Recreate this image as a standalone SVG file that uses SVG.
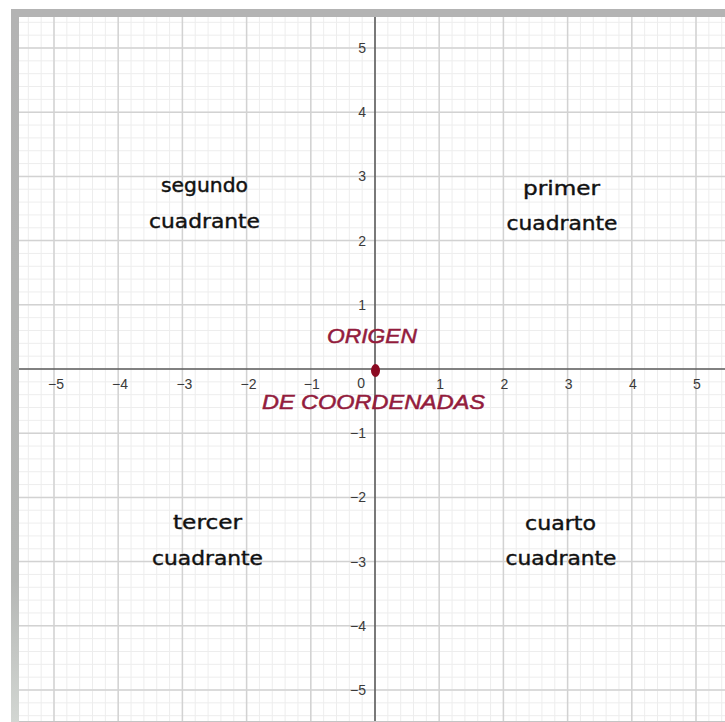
<svg xmlns="http://www.w3.org/2000/svg" width="725" height="722" viewBox="0 0 725 722">
<defs>
<pattern id="minor" patternUnits="userSpaceOnUse" x="368.58" y="362.58" width="12.84" height="12.84">
<path d="M6.42 0V12.84M0 6.42H12.84" stroke="#ededed" stroke-width="1" fill="none"/>
</pattern>
<linearGradient id="leftband" x1="0" y1="0" x2="0" y2="1">
<stop offset="0" stop-color="#b3b3b3"/>
<stop offset="0.8" stop-color="#b5b7b5"/>
<stop offset="1" stop-color="#d2d6d2"/>
</linearGradient>
</defs>
<style>
.major{stroke:#d2d2d2;stroke-width:1.5;fill:none}
.axis{stroke:#5a5a5a;stroke-width:1.6;fill:none}
.tick{font-family:"Liberation Sans",Arial,sans-serif;font-size:14px;fill:#3a3a3a}
.tx{text-anchor:middle}
.ty{text-anchor:end}
.quad{font-family:"DejaVu Sans","Noto Sans",sans-serif;font-size:19px;fill:#111;stroke:#111;stroke-width:0.4;text-anchor:middle}
.orig{font-family:"Liberation Sans",Arial,sans-serif;font-size:20px;font-style:italic;fill:#931c3d;stroke:#931c3d;stroke-width:0.5}
</style>
<rect x="0" y="0" width="725" height="722" fill="#ffffff"/>
<rect x="11" y="9" width="714" height="8" fill="#b3b3b3"/>
<rect x="11" y="9" width="8" height="713" fill="url(#leftband)"/>
<rect x="19" y="17" width="706" height="704" fill="#ffffff"/>
<rect x="19" y="17" width="706" height="704" fill="url(#minor)"/>
<g id="major-grid">
<path class="major" d="M54 17V721M118.2 17V721M182.4 17V721M246.6 17V721M310.8 17V721M439.2 17V721M503.4 17V721M567.6 17V721M631.8 17V721M696 17V721"/>
<path class="major" d="M19 48H725M19 112.2H725M19 176.4H725M19 240.6H725M19 304.8H725M19 433.2H725M19 497.4H725M19 561.6H725M19 625.8H725M19 690H725"/>
</g>
<line x1="19" y1="721.5" x2="725" y2="721.5" stroke="#c4c4c4" stroke-width="1"/>
<g id="axes">
<line class="axis" x1="19" y1="369" x2="725" y2="369"/>
<line class="axis" x1="375" y1="17" x2="375" y2="721"/>
</g>
<g id="x-labels" class="tick tx">
<text x="56" y="389">−5</text>
<text x="120" y="389">−4</text>
<text x="184.4" y="389">−3</text>
<text x="248.6" y="389">−2</text>
<text x="311.8" y="389">−1</text>
<text x="440.2" y="389">1</text>
<text x="504.4" y="389">2</text>
<text x="568.6" y="389">3</text>
<text x="632.8" y="389">4</text>
<text x="697" y="389">5</text>
</g>
<text class="tick ty" x="365" y="388">0</text>
<g id="y-labels" class="tick ty">
<text x="366" y="53">5</text>
<text x="366" y="117.2">4</text>
<text x="366" y="181.4">3</text>
<text x="366" y="245.6">2</text>
<text x="366" y="309.8">1</text>
<text x="366" y="438.2">−1</text>
<text x="366" y="502.4">−2</text>
<text x="366" y="566.6">−3</text>
<text x="366" y="630.8">−4</text>
<text x="366" y="695">−5</text>
</g>
<g id="segundo-cuadrante" class="quad">
<text x="204.5" y="192" textLength="87" lengthAdjust="spacingAndGlyphs">segundo</text>
<text x="204.5" y="228" textLength="111" lengthAdjust="spacingAndGlyphs">cuadrante</text>
</g>
<g id="primer-cuadrante" class="quad">
<text x="561.5" y="195" textLength="77" lengthAdjust="spacingAndGlyphs">primer</text>
<text x="562" y="230" textLength="111" lengthAdjust="spacingAndGlyphs">cuadrante</text>
</g>
<g id="tercer-cuadrante" class="quad">
<text x="207.5" y="529" textLength="69" lengthAdjust="spacingAndGlyphs">tercer</text>
<text x="207.5" y="565" textLength="111" lengthAdjust="spacingAndGlyphs">cuadrante</text>
</g>
<g id="cuarto-cuadrante" class="quad">
<text x="560.5" y="530" textLength="71" lengthAdjust="spacingAndGlyphs">cuarto</text>
<text x="561" y="565" textLength="111" lengthAdjust="spacingAndGlyphs">cuadrante</text>
</g>
<g id="origen">
<ellipse cx="375.5" cy="370.5" rx="4.5" ry="6.5" fill="#8b0a22"/>
<text class="orig" x="327" y="343" textLength="90" lengthAdjust="spacingAndGlyphs">ORIGEN</text>
<text class="orig" x="262" y="409" textLength="223" lengthAdjust="spacingAndGlyphs">DE COORDENADAS</text>
</g>
</svg>
